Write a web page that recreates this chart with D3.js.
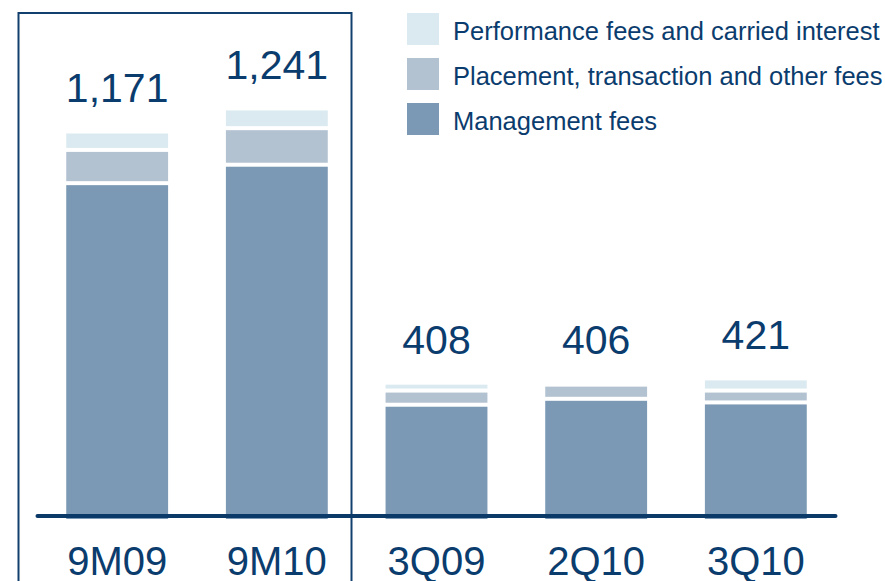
<!DOCTYPE html>
<html>
<head>
<meta charset="utf-8">
<script src="https://cdn.jsdelivr.net/npm/d3@7"></script>
<style>
  body { margin: 0; background: #fff; }
  svg { display: block; font-family: "Liberation Sans", Arial, sans-serif; }
</style>
</head>
<body>
<div id="main"></div>
<script>
const w = 885;
const h = 581;

const periods = ["9M09", "9M10", "3Q09", "2Q10", "3Q10"];
const managementFees = [1014, 1070, 341, 359, 348];
const placementFees = [101, 111, 43, 43, 36];
const performanceFees = [56, 60, 24, 4, 37];
const totals = ["1,171", "1,241", "408", "406", "421"];

const seriesNames = ["Management fees", "Placement, transaction and other fees", "Performance fees and carried interest"];
const seriesColors = ["#7b98b4", "#b3c2d1", "#dbeaf0"];
const legendOrder = [2, 1, 0];

const textColor = "#0b3c6e";
const gap = 4;

const svg = d3.select("#main")
  .append("svg")
  .attr("width", w)
  .attr("height", h);

const x = d3.scaleBand()
  .domain(periods)
  .range([37.5, 835.5])
  .paddingInner(0.362)
  .paddingOuter(0.18);

const y = d3.scaleLinear()
  .domain([0, 1300])
  .range([519, 91]);

const table = periods.map((p, i) => ({
  period: p,
  total: totals[i],
  "Management fees": managementFees[i],
  "Placement, transaction and other fees": placementFees[i],
  "Performance fees and carried interest": performanceFees[i]
}));

const stack = d3.stack().keys(seriesNames)(table);

// frame round the nine-month figures
svg.append("rect")
  .attr("x", 18.5)
  .attr("y", 13)
  .attr("width", 333)
  .attr("height", 650)
  .attr("fill", "none")
  .attr("stroke", "#12406e")
  .attr("stroke-width", 2);

const layers = svg.selectAll("g.layer")
  .data(stack)
  .enter()
  .append("g")
  .attr("class", "layer")
  .attr("fill", (d, i) => seriesColors[i]);

layers.selectAll("rect")
  .data((d, i) => d.map(s => ({ s: s, i: i })))
  .enter()
  .append("rect")
  .attr("x", d => x(d.s.data.period))
  .attr("y", d => y(d.s[1]))
  .attr("width", x.bandwidth())
  .attr("height", d => Math.max(0, y(d.s[0]) - y(d.s[1]) - (d.i > 0 ? gap : 0)));

svg.selectAll("text.total")
  .data(table)
  .enter()
  .append("text")
  .attr("class", "total")
  .attr("x", d => x(d.period) + x.bandwidth() / 2)
  .attr("y", (d, i) => y(managementFees[i] + placementFees[i] + performanceFees[i]) - 31)
  .attr("text-anchor", "middle")
  .attr("font-size", 41)
  .attr("fill", textColor)
  .text(d => d.total);

svg.append("line")
  .attr("x1", 37.5)
  .attr("x2", 835.5)
  .attr("y1", 516)
  .attr("y2", 516)
  .attr("stroke", "#0b3a68")
  .attr("stroke-width", 4)
  .attr("stroke-linecap", "round");

svg.selectAll("text.period")
  .data(periods)
  .enter()
  .append("text")
  .attr("class", "period")
  .attr("x", d => x(d) + x.bandwidth() / 2)
  .attr("y", 575)
  .attr("text-anchor", "middle")
  .attr("font-size", 40)
  .attr("fill", textColor)
  .text(d => d);

const legend = svg.append("g")
  .attr("transform", "translate(407,13)");

const items = legend.selectAll("g")
  .data(legendOrder)
  .enter()
  .append("g")
  .attr("transform", (d, i) => "translate(0," + i * 45 + ")");

items.append("rect")
  .attr("width", 32)
  .attr("height", 32)
  .attr("fill", d => seriesColors[d]);

items.append("text")
  .attr("x", 46)
  .attr("y", 27)
  .attr("font-size", 25.5)
  .attr("fill", textColor)
  .text(d => seriesNames[d]);
</script>
</body>
</html>
